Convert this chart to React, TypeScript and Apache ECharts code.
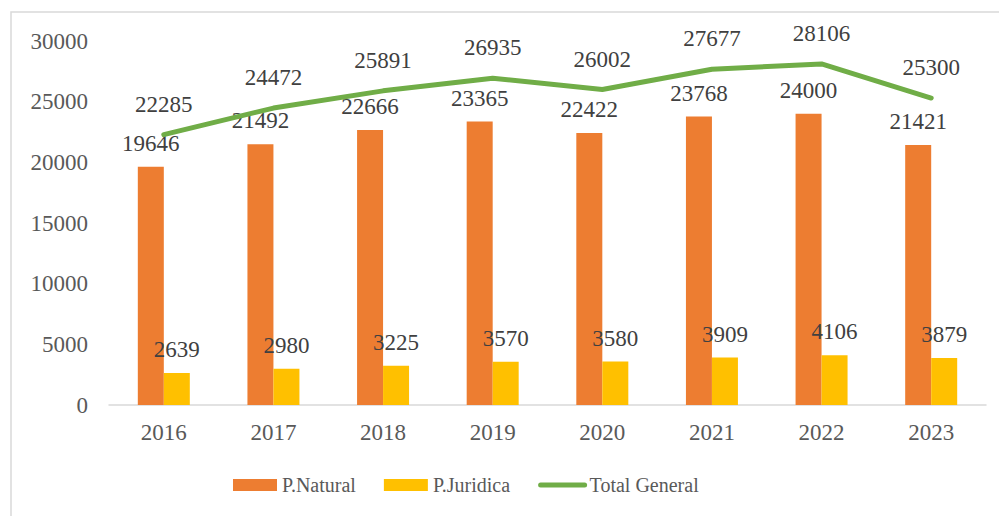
import React, { useEffect, useRef } from "react";
import * as echarts from "echarts";

const years = ["2016", "2017", "2018", "2019", "2020", "2021", "2022", "2023"];
const natural = [19646, 21492, 22666, 23365, 22422, 23768, 24000, 21421];
const juridica = [2639, 2980, 3225, 3570, 3580, 3909, 4106, 3879];
const total = [22285, 24472, 25891, 26935, 26002, 27677, 28106, 25300];

const FONT = "'Liberation Serif', 'Times New Roman', serif";

export default function App() {
  const ref = useRef<HTMLDivElement>(null);
  useEffect(() => {
    if (!ref.current) return;
    const chart = echarts.init(ref.current, undefined, { renderer: "svg" });
    const dataLabel = {
      show: true,
      position: "top" as const,
      distance: 12,
      color: "#404040",
      fontFamily: FONT,
      fontSize: 23,
    };
    chart.setOption({
      animation: false,
      backgroundColor: "#ffffff",
      grid: { left: 109, right: 13, top: 41, bottom: 111, containLabel: false },
      graphic: [
        {
          type: "rect",
          shape: { x: 11, y: 12, width: 1000, height: 520 },
          style: { fill: "none", stroke: "#D9D9D9", lineWidth: 1.5 },
          silent: true,
        },
      ],
      legend: {
        top: 470,
        left: 228,
        itemWidth: 44,
        itemHeight: 12,
        itemGap: 28,
        textStyle: { fontFamily: FONT, fontSize: 20, color: "#595959" },
        data: [
          { name: "P.Natural", icon: "rect" },
          { name: "P.Juridica", icon: "rect" },
          {
            name: "Total General",
            itemStyle: { opacity: 0 },
            lineStyle: { width: 5, cap: "round" },
          },
        ],
      },
      xAxis: {
        type: "category",
        data: years,
        axisLine: { lineStyle: { color: "#D9D9D9", width: 1.5 } },
        axisTick: { show: false },
        axisLabel: { color: "#595959", fontFamily: FONT, fontSize: 23, margin: 16 },
      },
      yAxis: {
        type: "value",
        min: 0,
        max: 30000,
        interval: 5000,
        axisLine: { show: false },
        axisTick: { show: false },
        splitLine: { show: false },
        axisLabel: {
          color: "#595959",
          fontFamily: FONT,
          fontSize: 23,
          margin: 21,
          formatter: (v: number) => String(v),
        },
      },
      series: [
        {
          name: "P.Natural",
          type: "bar",
          data: natural,
          barWidth: 26,
          barGap: "0%",
          itemStyle: { color: "#ED7D31" },
          label: dataLabel,
        },
        {
          name: "P.Juridica",
          type: "bar",
          data: juridica,
          barWidth: 26,
          barGap: "0%",
          itemStyle: { color: "#FFC000" },
          label: dataLabel,
        },
        {
          name: "Total General",
          type: "line",
          data: total,
          symbol: "circle",
          symbolSize: 0.01,
          showSymbol: true,
          itemStyle: { color: "#70AD47" },
          lineStyle: { color: "#70AD47", width: 5, cap: "round", join: "round" },
          label: { ...dataLabel, distance: 19 },
          z: 3,
        },
      ],
    });
    return () => chart.dispose();
  }, []);
  return (
    <div
      ref={ref}
      style={{ position: "absolute", left: 0, top: 0, width: 999, height: 516 }}
    />
  );
}
